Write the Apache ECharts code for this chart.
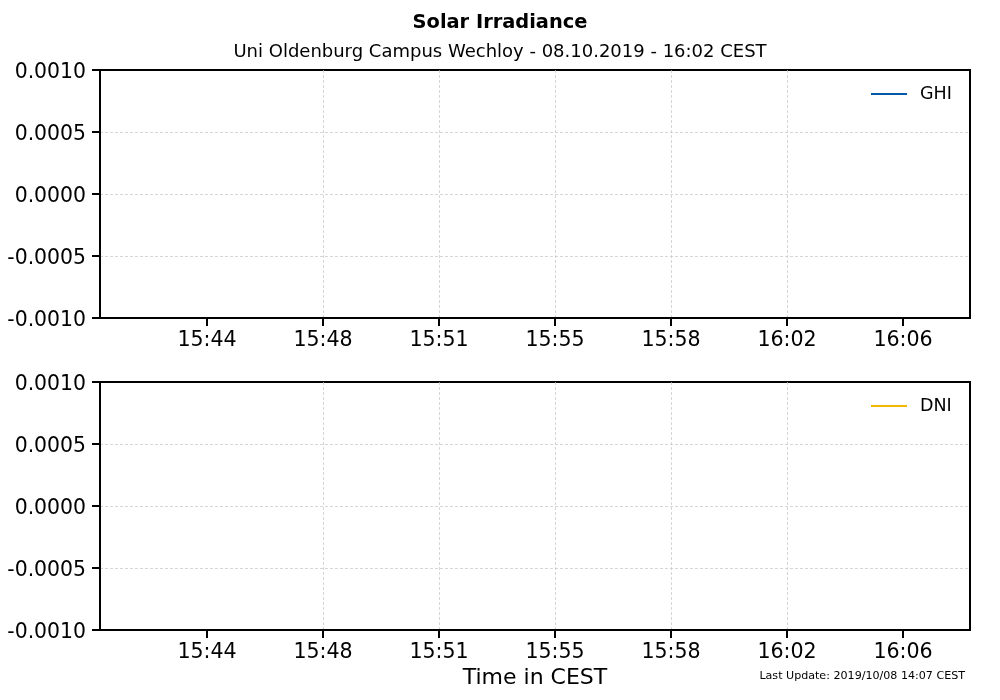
<!DOCTYPE html>
<html><head><meta charset="utf-8">
<script src="https://cdn.jsdelivr.net/npm/echarts@6/dist/echarts.min.js"></script>
<style>html,body{margin:0;padding:0;background:#fff}#c{width:1000px;height:700px}</style>
</head><body><div id="c"></div>
<script>
// minutes after 15:00
const tickPositions = [44, 47.5, 51, 54.5, 58, 61.5, 65];
const tickLabels = ['15:44', '15:48', '15:51', '15:55', '15:58', '16:02', '16:06'];
const xRange = [40.77, 67.02];
const yRange = [-0.001, 0.001];
const yStep = 0.0005;
const ghiValues = [];   // no measurements shown
const dniValues = [];
const seriesNames = ['GHI', 'DNI'];
const seriesColors = ['#005aa9', '#f5b800'];

const chart = echarts.init(document.getElementById('c'), null, {renderer: 'canvas'});
const font = 'DejaVu Sans';
const grids = [
  {left: 100, top: 70, width: 870, height: 248},
  {left: 100, top: 382, width: 870, height: 248}
];
const splitStyle = {color: '#c4c4c4', type: [3, 2], width: 0.7};
function xAxis(i) {
  return {
    type: 'value', gridIndex: i, min: xRange[0], max: xRange[1],
    axisLine: {show: true, onZero: false, lineStyle: {color: '#000', width: 2}},
    axisTick: {show: true, length: 8, inside: false, customValues: tickPositions, lineStyle: {color: '#000', width: 2}},
    axisLabel: {customValues: tickPositions, formatter: v => tickLabels[tickPositions.indexOf(v)] ?? '',
      fontFamily: font, fontSize: 20.6, color: '#000', margin: 12.5},
    splitLine: {show: true, showMinLine: false, showMaxLine: false, lineStyle: splitStyle},
    name: i === 1 ? 'Time in CEST' : '', nameLocation: 'middle', nameGap: 37,
    nameTextStyle: {fontFamily: font, fontSize: 22, color: '#000'}
  };
}
function yAxis(i) {
  return {
    type: 'value', gridIndex: i, min: yRange[0], max: yRange[1], interval: yStep,
    axisLine: {show: true, lineStyle: {color: '#000', width: 2}},
    axisTick: {show: true, length: 8, lineStyle: {color: '#000', width: 2}},
    axisLabel: {formatter: v => v.toFixed(4), fontFamily: font, fontSize: 20.4, color: '#000', margin: 14,
      verticalAlign: 'top', lineHeight: 6},
    splitLine: {show: true, showMinLine: false, showMaxLine: false, lineStyle: splitStyle}
  };
}
chart.setOption({
  animation: false,
  backgroundColor: '#fff',
  title: [
    {text: 'Solar Irradiance', left: 'center', top: 8, textStyle: {fontFamily: font, fontSize: 19.4, fontWeight: 'bold', color: '#000'}},
    {text: 'Uni Oldenburg Campus Wechloy - 08.10.2019 - 16:02 CEST', left: 'center', top: 38, textStyle: {fontFamily: font, fontSize: 18, fontWeight: 'normal', color: '#000'}},
    {text: 'Last Update: 2019/10/08 14:07 CEST', right: 30, top: 666, textStyle: {fontFamily: font, fontSize: 11.1, fontWeight: 'normal', color: '#000'}}
  ],
  grid: grids.map(g => Object.assign({show: true, borderColor: '#000', borderWidth: 2, backgroundColor: 'transparent'}, g)),
  xAxis: [xAxis(0), xAxis(1)],
  yAxis: [yAxis(0), yAxis(1)],
  legend: [
    {data: [seriesNames[0]], left: 866, top: 80, icon: 'rect', itemWidth: 36, itemHeight: 2, itemGap: 10,
      textStyle: {fontFamily: font, fontSize: 17.5, color: '#000', padding: [0, 0, 0, 8]}},
    {data: [seriesNames[1]], left: 866, top: 392, icon: 'rect', itemWidth: 36, itemHeight: 2, itemGap: 10,
      textStyle: {fontFamily: font, fontSize: 17.5, color: '#000', padding: [0, 0, 0, 8]}}
  ],
  series: [
    {name: seriesNames[0], type: 'line', xAxisIndex: 0, yAxisIndex: 0, data: ghiValues, color: seriesColors[0], showSymbol: false, lineStyle: {width: 2}},
    {name: seriesNames[1], type: 'line', xAxisIndex: 1, yAxisIndex: 1, data: dniValues, color: seriesColors[1], showSymbol: false, lineStyle: {width: 2}}
  ]
});
</script></body></html>
